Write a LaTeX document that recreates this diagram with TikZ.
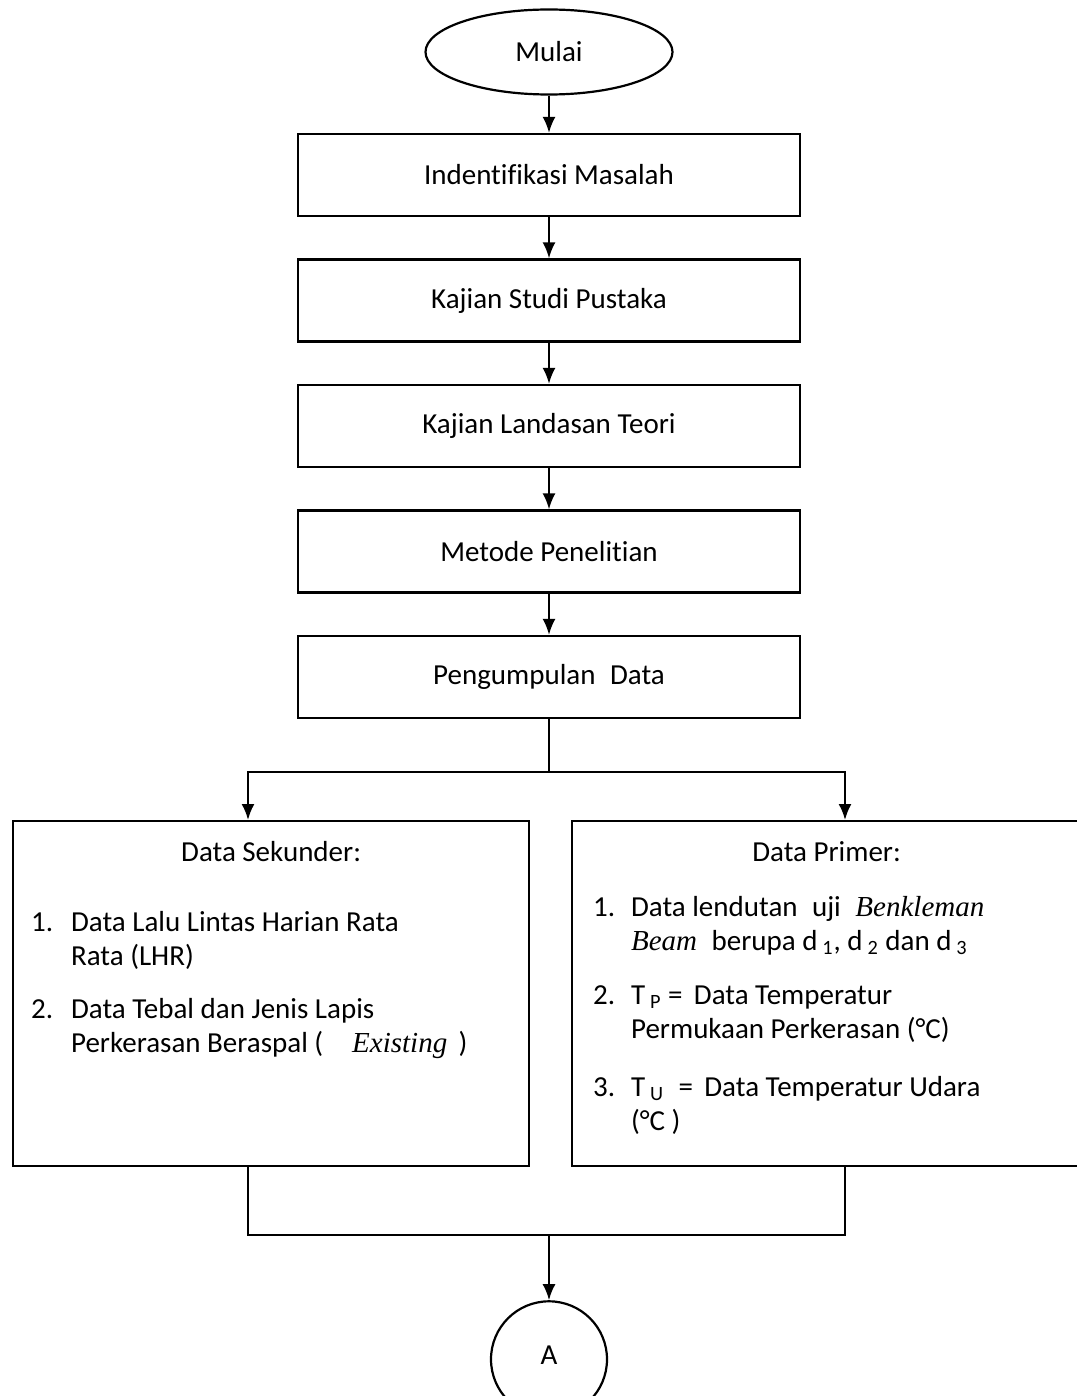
\documentclass[tikz,border=0pt]{standalone}
\usepackage{fontspec}
\setmainfont{Carlito}[Ligatures=NoCommon]
\newfontfamily\timesfont{Liberation Serif}
\usepackage{tikz}
\usetikzlibrary{arrows.meta, positioning, calc, graphs, shapes.geometric}
\tikzset{
node distance=20.65pt,
>={Latex[length=8pt,width=6.5pt]},
box/.style={%
    rectangle,
    minimum width=251pt,
    minimum height=41pt,
    inner sep=0pt,
    draw=black,
},
start/.style={%
    ellipse,minimum width=123.5pt,minimum height=42.5pt,inner sep=0pt,draw=black
},
connector/.style={%
    circle,minimum size=58pt,inner sep=0pt,draw=black
},
panel/.style={%
    rectangle,minimum height=172.5pt,inner sep=0pt,draw=black
},
itemlist/.style={anchor=base west,inner sep=0pt},
junction/.style={circle,inner sep=0pt,minimum size=0pt},
}

\begin{document}
\begin{tikzpicture}[line width=1.1pt, font=\fontsize{14.5pt}{17pt}\selectfont]
	\useasboundingbox (0,0) rectangle (538pt,-698pt);

	\node[start] (mulai) at (274.5pt,-26pt) {Mulai};
	\node[box, below=18.65pt of mulai] (masalah) {Indentifikasi Masalah};
	\node[box, below=of masalah] (pustaka) {Kajian Studi Pustaka};
	\node[box, below=of pustaka] (teori) {Kajian Landasan Teori};
	\node[box, below=of teori] (metode) {Metode Penelitian};
	\node[box, below=of metode] (kumpul) {Pengumpulan\enspace Data};
	\node[junction, below=26pt of kumpul] (split) {};

	% the two data panels
	\node[panel, minimum width=258pt, anchor=north west] (sekunder) at (6pt,-410pt) {};
	\node[panel, minimum width=254.5pt, anchor=north west] (primer) at (285.5pt,-410pt) {};
	\node[anchor=base] (sekundertitle) at ([yshift=-20.5pt]sekunder.north) {Data Sekunder:};
	\node[anchor=base] (primertitle) at ([yshift=-20.5pt]primer.north) {Data Primer:};

	\node[itemlist] (sekunderlist) at ([shift={(9pt,-55.5pt)}]sekunder.north west) {%
	\begin{tabular}[t]{@{}p{20pt}@{}l@{}}
	1. & Data Lalu Lintas Harian Rata\\
	   & Rata (LHR)\\[9.5pt]
	2. & Data Tebal dan Jenis Lapis\\
	   & Perkerasan Beraspal (\quad{\timesfont\itshape Existing}\ \,)
	\end{tabular}};

	\node[itemlist] (primerlist) at ([shift={(10.5pt,-48pt)}]primer.north west) {%
	\begin{tabular}[t]{@{}p{19pt}@{}l@{}}
	1. & Data lendutan\enspace uji\enspace{\timesfont\itshape Benkleman}\\
	   & {\timesfont\itshape Beam}\enspace berupa d\,\textsubscript{1}, d\,\textsubscript{2} dan d\,\textsubscript{3}\\[10pt]
	2. & T\,\textsubscript{P} = \,Data Temperatur\\
	   & Permukaan Perkerasan (°C)\\[12pt]
	3. & T\,\textsubscript{U}\enspace= \,Data Temperatur Udara\\
	   & (°C )
	\end{tabular}};

	\coordinate (inL) at ([xshift=118pt]sekunder.north west);
	\coordinate (inR) at ([xshift=137pt]primer.north west);
	\coordinate (outL) at ([xshift=118pt]sekunder.south west);
	\coordinate (outR) at ([xshift=137pt]primer.south west);
	\coordinate (merge) at ($(kumpul.south |- sekunder.south)+(0,-34pt)$);
	\node[connector, below=32.5pt of merge] (A) {\raisebox{4pt}{A}};

\graph [use existing nodes] {
mulai -> masalah -> pustaka -> teori -> metode -> kumpul;
};

	\draw (kumpul) -- (split.center);
	\draw[->] (split.center) -| (inL);
	\draw[->] (split.center) -| (inR);
	\draw (outL) |- (merge) -| (outR);
	\draw[->] (merge) -- (A);

\end{tikzpicture}
\end{document}
